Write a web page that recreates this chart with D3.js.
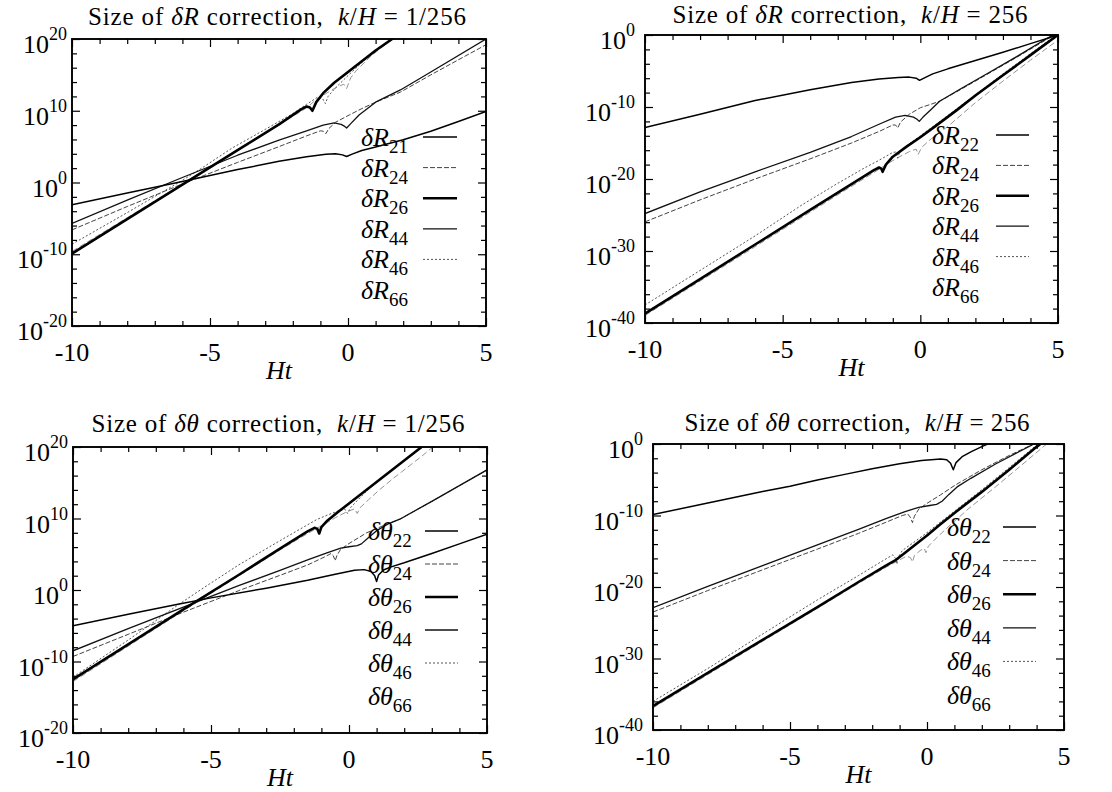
<!DOCTYPE html>
<html><head><meta charset="utf-8">
<script src="https://cdn.jsdelivr.net/npm/d3@7"></script>
<style>
body{margin:0;background:#fff}
svg{display:block}
text{font-family:"Liberation Serif","DejaVu Serif",serif;fill:#000}
</style>
</head><body>
<svg id="c" width="1112" height="792"></svg>
<script>
// ---- data: [Ht, log10(size)] ----
const xTicks = [-10,-9,-8,-7,-6,-5,-4,-3,-2,-1,0,1,2,3,4,5];
const xLabels = [-10,-5,0,5];
const yTicksA = d3.range(-20,21,2), yLabelsA = [-20,-10,0,10,20];
const yTicksB = d3.range(-40,1,2),  yLabelsB = [-40,-30,-20,-10,0];
const legendR1 = ["21","24","26","44","46","66"];
const legendR2 = ["22","24","26","44","46","66"];
const legendT  = ["22","24","26","44","46","66"];

const P1_R21 = [[-10,-3.1],[-8,-1.45],[-6,0.15],[-4,1.8],[-2.5,2.95],[-1.5,3.6],[-0.8,3.95],[-0.45,4.0],[-0.2,3.85],[-0.05,3.62],[0.15,3.95],[0.5,4.45],[1,4.95],[2,5.95],[3,7.15],[4,8.5],[5,9.9]];
const P1_R24 = [[-10,-6.6],[-8,-3.35],[-6,-0.2],[-4,2.8],[-2.5,5.0],[-1.5,6.5],[-1.0,7.2],[-0.9,7.15],[-0.8,6.8],[-0.7,7.5],[-0.45,8.4],[0.04,9.4],[0.5,10.3],[1.0,11.2],[1.9,12.6],[3,15.0],[5,19.2]];
const P1_R26 = [[-10,-9.9],[-8,-5.1],[-6,-0.3],[-4,4.5],[-2.5,8.1],[-1.7,10.2],[-1.5,10.6],[-1.38,10.45],[-1.29,10.0],[-1.15,11.2],[-0.9,12.45],[-0.5,13.9],[0,15.4],[0.5,16.9],[1.0,18.4],[1.6,20.0],[2,21.2]];
const P1_R44 = [[-10,-5.7],[-8,-2.45],[-6,0.7],[-4,3.8],[-2.5,5.9],[-1.5,7.2],[-0.9,8.0],[-0.5,8.3],[-0.25,8.1],[-0.15,7.9],[-0.05,7.6],[0.1,8.2],[0.4,9.4],[1.0,11.2],[1.9,12.9],[3,15.4],[5,20.0]];
const P1_R46 = [[-10,-8.6],[-8,-4.2],[-6,0.3],[-5.3,2.0],[-4.2,4.8],[-3,7.4],[-2,9.6],[-1.5,10.9],[-1.1,11.9],[-0.92,11.7],[-0.82,11.0],[-0.72,12.0],[-0.5,13.0],[0,14.9],[0.5,16.7],[1.0,18.3],[1.6,20.0],[2,21.2]];
const P1_R66 = [[-10,-9.6],[-8,-4.9],[-6,-0.2],[-3,6.9],[-1.5,10.4],[-1.2,11.4],[-0.8,12.4],[-0.4,13.3],[-0.15,13.7],[-0.05,13.1],[0.1,14.6],[0.3,15.6],[0.8,17.5],[1.5,19.7],[2,21.2]];

const P2_R22 = [[-10,-12.85],[-8,-11.0],[-6,-9.1],[-4,-7.6],[-2.5,-6.6],[-1.5,-6.1],[-0.8,-5.9],[-0.4,-5.85],[-0.15,-6.0],[-0.03,-6.3],[0.15,-5.95],[0.45,-5.4],[1,-4.7],[2,-3.55],[3,-2.4],[4,-1.2],[5,0.0]];
const P2_R24 = [[-10,-25.95],[-8,-22.9],[-6,-20.0],[-4,-17.2],[-2.5,-15.0],[-1.5,-13.4],[-1.0,-12.5],[-0.9,-12.5],[-0.82,-12.9],[-0.72,-12.1],[-0.4,-11.0],[0,-10.1],[0.4,-9.6],[0.7,-9.2],[1.5,-7.5],[2.5,-5.3],[3.5,-3.1],[4.6,-0.6],[5,0.3]];
const P2_R26 = [[-10,-38.7],[-8,-33.9],[-6,-29.1],[-4,-24.3],[-2.5,-20.7],[-1.7,-18.8],[-1.5,-18.4],[-1.42,-18.55],[-1.37,-19.0],[-1.25,-18.0],[-1.0,-16.9],[-0.5,-15.5],[0,-14.2],[0.5,-12.8],[1.3,-10.5],[2,-8.4],[3,-5.6],[4,-2.8],[5,0]];
const P2_R44 = [[-10,-24.8],[-8,-21.8],[-6,-19.0],[-4,-16.3],[-2.5,-14.1],[-1.5,-12.4],[-0.9,-11.4],[-0.55,-11.15],[-0.25,-11.4],[-0.12,-11.7],[-0.04,-12.0],[0.1,-11.4],[0.4,-10.3],[0.7,-9.2],[1.5,-7.4],[2.5,-5.2],[3.5,-3.0],[4.5,-0.7],[5,0.4]];
const P2_R46 = [[-10,-37.5],[-8,-32.7],[-6,-27.9],[-4.3,-23.6],[-3,-20.6],[-2,-18.4],[-1.5,-17.4],[-1.0,-16.3],[-0.88,-16.25],[-0.82,-17.1],[-0.74,-16.1],[-0.4,-15.1],[0,-14.0],[0.5,-12.6],[1.3,-10.3],[2,-8.3],[3,-5.4],[4,-2.6],[5,0.2]];
const P2_R66 = [[-10,-38.95],[-6,-29.4],[-3,-22.2],[-1.6,-18.9],[-1.2,-17.9],[-0.8,-17.0],[-0.4,-16.2],[-0.15,-15.85],[-0.08,-16.6],[0.05,-15.6],[0.4,-14.4],[1,-12.7],[2,-9.4],[3,-6.4],[4,-3.5],[5,-0.7]];

const P3_T22 = [[-10,-5.0],[-8,-3.4],[-6.2,-2.0],[-5,-1.1],[-3,0.25],[-1.5,1.35],[-0.5,2.2],[0.2,2.75],[0.55,2.85],[0.8,2.6],[0.93,2.0],[1.0,1.2],[1.07,2.1],[1.25,2.8],[1.5,3.2],[2,3.8],[3,5.1],[4,6.45],[5,7.8]];
const P3_T24 = [[-10,-9.3],[-8,-6.2],[-6,-3.1],[-4,-0.1],[-2.5,2.05],[-1.5,3.5],[-0.9,4.6],[-0.65,5.1],[-0.57,4.8],[-0.5,4.1],[-0.43,4.9],[-0.3,5.7],[0,6.5],[0.64,8.0],[1.3,9.1],[1.84,9.9],[3,12.4],[4,14.6],[5,16.8]];
const P3_T26 = [[-10,-12.5],[-8,-7.6],[-6,-2.7],[-4,2.1],[-2.5,5.8],[-1.5,8.2],[-1.25,8.7],[-1.15,8.55],[-1.08,7.9],[-1.0,8.8],[-0.81,9.6],[-0.4,10.9],[0,12.1],[0.5,13.6],[1,15.1],[2,18.1],[2.63,20],[3,21.1]];
const P3_T44 = [[-10,-8.5],[-8,-5.4],[-6,-2.4],[-4,0.6],[-2.5,2.75],[-1.5,4.2],[-0.8,5.2],[-0.3,5.85],[0,6.05],[0.3,6.2],[0.45,6.45],[0.7,7.3],[1.0,8.3],[1.4,9.2],[1.84,9.9],[3,12.4],[4,14.6],[5,16.8]];
const P3_T46 = [[-10,-12.2],[-8,-7.0],[-6.2,-2.1],[-5.27,0.3],[-4,3.5],[-2.5,6.9],[-1.6,8.9],[-1.17,9.85],[-0.8,10.45],[-0.4,11.05],[-0.15,11.3],[-0.05,10.7],[0.05,11.5],[0.3,12.5],[0.6,13.7],[1.0,15.1],[2,18.1],[2.7,20.2]];
const P3_T66 = [[-10,-12.8],[-6,-2.9],[-2.5,5.6],[-1.5,7.9],[-0.9,9.2],[-0.5,10.1],[-0.1,10.9],[0.2,11.35],[0.3,10.7],[0.4,11.5],[0.7,12.6],[1.1,14.0],[1.6,15.6],[2.6,18.6],[3.1,20.2]];

const P4_T22 = [[-10,-9.87],[-8,-8.25],[-6,-6.65],[-5,-5.9],[-4,-5.05],[-3,-4.25],[-2,-3.45],[-1,-2.75],[-0.2,-2.3],[0.5,-2.1],[0.72,-2.2],[0.86,-2.7],[0.96,-3.6],[1.06,-2.6],[1.3,-1.72],[1.6,-1.1],[2.02,-0.33],[2.4,0.3]];
const P4_T24 = [[-10,-23.5],[-8,-20.5],[-6,-17.6],[-4,-14.7],[-2.5,-12.5],[-1.5,-10.95],[-0.9,-10.0],[-0.7,-9.8],[-0.6,-10.3],[-0.53,-11.0],[-0.46,-10.1],[-0.3,-9.1],[0,-8.3],[0.5,-7.1],[1.05,-5.7],[2,-3.6],[3,-1.6],[3.5,-0.7],[4.0,0.2]];
const P4_T26 = [[-10,-36.65],[-8,-32.0],[-6,-27.4],[-4,-22.8],[-2.5,-19.3],[-1.5,-17.0],[-1.13,-16.2],[-0.8,-15.2],[-0.5,-14.3],[0,-12.8],[0.5,-11.2],[1.05,-9.5],[2,-6.7],[3,-3.6],[3.5,-2.0],[4.0,-0.4],[4.2,0.2]];
const P4_T44 = [[-10,-22.9],[-8,-19.9],[-6,-17.0],[-4,-14.1],[-2.5,-11.95],[-1.5,-10.45],[-0.8,-9.45],[-0.3,-8.85],[0.1,-8.6],[0.35,-8.45],[0.55,-8.0],[0.8,-7.05],[1.1,-6.0],[1.6,-4.8],[2.5,-2.8],[3.5,-0.8],[4.0,0.2]];
const P4_T46 = [[-10,-36.0],[-8,-31.4],[-5.3,-24.9],[-4,-21.8],[-2.5,-18.4],[-1.6,-16.3],[-1.25,-15.5],[-1.15,-16.0],[-1.1,-16.8],[-1.03,-15.7],[-0.9,-14.9],[-0.5,-13.8],[0,-12.4],[0.5,-10.9],[1,-9.4],[2,-6.4],[3,-3.3],[3.7,-1.1],[4.1,0.2]];
const P4_T66 = [[-10,-36.9],[-6,-27.6],[-2.5,-19.5],[-1.5,-17.25],[-1.0,-16.2],[-0.75,-15.7],[-0.6,-15.9],[-0.53,-16.5],[-0.46,-15.6],[-0.25,-14.9],[-0.1,-14.6],[-0.04,-15.2],[0.05,-14.3],[0.3,-13.3],[0.8,-11.5],[1.5,-9.1],[2.5,-6.0],[3.5,-2.8],[4.3,-0.2],[4.5,0.3]];

// ---- styles (index = legend order) ----
const styles = [
  {w:1.5, c:"#000", d:null},
  {w:1.0, c:"#444", d:"5,2"},
  {w:2.6, c:"#000", d:null},
  {w:1.3, c:"#111", d:null},
  {w:1.0, c:"#555", d:"2,2"},
  {w:0.9, c:"#888", d:"6,3"}
];

const panels = [
  {L:72,R:486,T:39,B:326, sym:"R", kh:"1/256", tx:277, ty:25, tw:378, yt:yTicksA, yl:yLabelsA, ymin:-20, ymax:20,
   series:[P1_R21,P1_R24,P1_R26,P1_R44,P1_R46,P1_R66], leg:legendR1, lx:361, ly0:137, ldy:30.6, lx1:423, lx2:457, ylx:67},
  {L:645,R:1058,T:35,B:323, sym:"R", kh:"256", tx:850, ty:23, tw:355, yt:yTicksB, yl:yLabelsB, ymin:-40, ymax:0,
   series:[P2_R22,P2_R24,P2_R26,P2_R44,P2_R46,P2_R66], leg:legendR2, lx:932, ly0:135, ldy:30.4, lx1:996, lx2:1029, ylx:635},
  {L:73,R:487,T:447,B:733, sym:"θ", kh:"1/256", tx:278, ty:432, tw:373, yt:yTicksA, yl:yLabelsA, ymin:-20, ymax:20,
   series:[P3_T22,P3_T24,P3_T26,P3_T44,P3_T46,P3_T66], leg:legendT, lx:368, ly0:531, ldy:33, lx1:425, lx2:458, ylx:68},
  {L:653,R:1064,T:444,B:730, sym:"θ", kh:"256", tx:857, ty:431, tw:345, yt:yTicksB, yl:yLabelsB, ymin:-40, ymax:0,
   series:[P4_T22,P4_T24,P4_T26,P4_T44,P4_T46,P4_T66], leg:legendT, lx:947, ly0:527, ldy:33.6, lx1:1003, lx2:1036, ylx:643}
];

const svg = d3.select("#c");

panels.forEach((p, pi) => {
  const x = d3.scaleLinear().domain([-10,5]).range([p.L,p.R]);
  const y = d3.scaleLog().domain([10**p.ymin, 10**p.ymax]).range([p.B,p.T]);
  const g = svg.append("g");

  const cid = "clip"+pi;
  svg.append("clipPath").attr("id",cid).append("rect")
    .attr("x",p.L).attr("y",p.T).attr("width",p.R-p.L).attr("height",p.B-p.T);

  const line = d3.line().x(d=>x(d[0])).y(d=>y(10**d[1]));
  const order = [5,4,1,3,0,2];
  order.forEach(i => {
    const s = styles[i];
    g.append("path").attr("clip-path",`url(#${cid})`)
      .attr("d", line(p.series[i]))
      .attr("fill","none").attr("stroke",s.c).attr("stroke-width",s.w)
      .attr("stroke-dasharray",s.d).attr("stroke-linejoin","round");
  });

  const styleAxis = sel => { sel.select(".domain").remove(); sel.selectAll("line").attr("stroke","#000").attr("stroke-width",1.2); sel.selectAll("text").remove(); };
  const isMajX = v => xLabels.includes(v);
  const isMajY = v => p.yl.includes(Math.round(Math.log10(v)));
  const yVals = p.yt.map(e=>10**e);

  g.append("g").attr("transform",`translate(0,${p.B})`).call(d3.axisBottom(x).tickValues(xTicks).tickSize(-5)).call(styleAxis)
    .selectAll(".tick line").attr("y2", d=> isMajX(d)?-8:-5);
  g.append("g").attr("transform",`translate(0,${p.T})`).call(d3.axisTop(x).tickValues(xTicks).tickSize(-5)).call(styleAxis)
    .selectAll(".tick line").attr("y2", d=> isMajX(d)?8:5);
  g.append("g").attr("transform",`translate(${p.L},0)`).call(d3.axisLeft(y).tickValues(yVals).tickSize(-5)).call(styleAxis)
    .selectAll(".tick line").attr("x2", d=> isMajY(d)?8:5);
  g.append("g").attr("transform",`translate(${p.R},0)`).call(d3.axisRight(y).tickValues(yVals).tickSize(-5)).call(styleAxis)
    .selectAll(".tick line").attr("x2", d=> isMajY(d)?-8:-5);

  g.append("rect").attr("x",p.L).attr("y",p.T).attr("width",p.R-p.L).attr("height",p.B-p.T)
    .attr("fill","none").attr("stroke","#000").attr("stroke-width",1.9);

  xLabels.forEach(v => {
    g.append("text").attr("x", x(v)).attr("y", p.B+35).attr("text-anchor","middle")
      .attr("font-size",26).text(String(v));
  });
  g.append("text").attr("x",(p.L+p.R)/2).attr("y",p.B+53).attr("text-anchor","middle")
    .attr("font-size",26).attr("font-style","italic").text("Ht");

  p.yl.forEach(e => {
    const t = g.append("text").attr("x",p.ylx).attr("y", y(10**e)+14).attr("text-anchor","end").attr("font-size",26);
    t.append("tspan").text("10");
    t.append("tspan").attr("dy",-13).attr("font-size",18).text(String(e));
  });

  const t = g.append("text").attr("x",p.tx).attr("y",p.ty).attr("text-anchor","middle").attr("font-size",25)
    .attr("textLength",p.tw).attr("lengthAdjust","spacing");
  t.append("tspan").text("Size of ");
  t.append("tspan").attr("font-style","italic").text("δ"+p.sym);
  t.append("tspan").text(" correction,\u00a0\u00a0");
  t.append("tspan").attr("font-style","italic").text("k");
  t.append("tspan").text("/");
  t.append("tspan").attr("font-style","italic").text("H");
  t.append("tspan").text(" = "+p.kh);

  p.leg.forEach((lab,i) => {
    const ly = p.ly0 + i*p.ldy;
    const lt = g.append("text").attr("x",p.lx).attr("y",ly+9).attr("font-size",26);
    lt.append("tspan").attr("font-style","italic").text("δ"+p.sym);
    lt.append("tspan").attr("dy",7).attr("font-size",19).text(lab);
    if (i < 5) {
      const s = styles[i];
      g.append("line").attr("x1",p.lx1).attr("x2",p.lx2).attr("y1",ly).attr("y2",ly)
        .attr("stroke",s.c).attr("stroke-width",s.w).attr("stroke-dasharray",s.d);
    }
  });
});
</script>
</body></html>
